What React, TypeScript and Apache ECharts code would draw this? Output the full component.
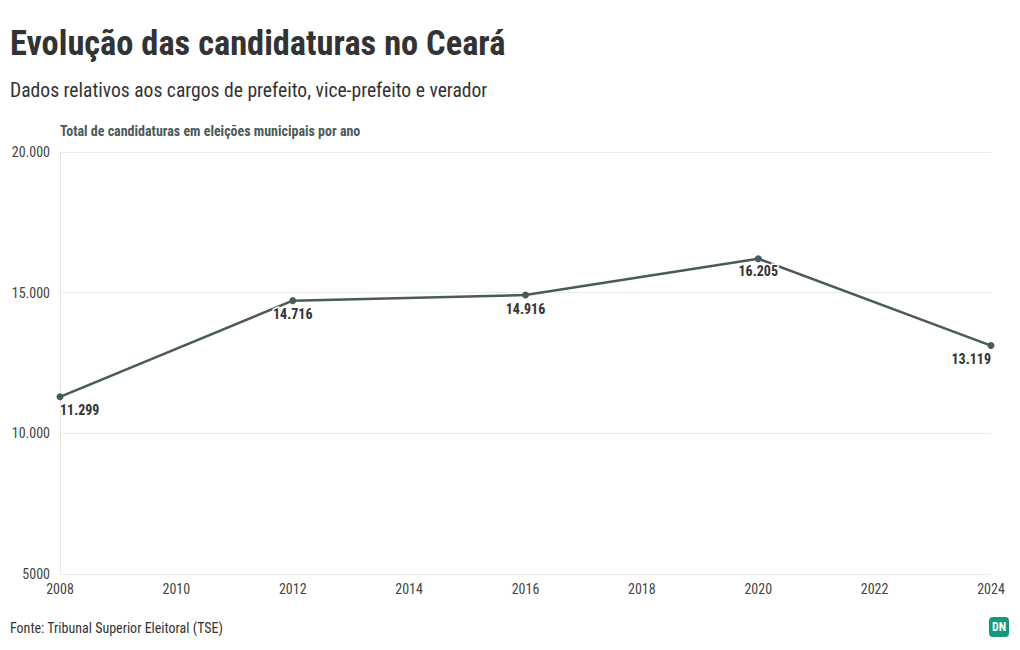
import React, { useEffect, useRef } from "react";
import * as echarts from "echarts";

const years = [2008, 2012, 2016, 2020, 2024];
const candidaturas = [11299, 14716, 14916, 16205, 13119];
const yTicks = [5000, 10000, 15000, 20000];
const xTicks = [2008, 2010, 2012, 2014, 2016, 2018, 2020, 2022, 2024];

const FONT = "'Roboto Condensed', 'Liberation Sans Narrow', 'DejaVu Sans Condensed', Roboto, sans-serif";

const fmt = (v: number) => (v >= 10000 ? v.toLocaleString("de-DE") : String(v));

export default function App() {
  const ref = useRef<HTMLDivElement>(null);
  useEffect(() => {
    document.body.style.margin = "0";
    if (!ref.current) return;
    const chart = echarts.init(ref.current, undefined, { renderer: "svg" });
    const labelAligns: Record<number, any> = {
      0: { align: "left", offset: [0, 2] },
      1: { align: "center", offset: [0, 2] },
      2: { align: "center", offset: [0, 2] },
      3: { align: "center", offset: [0, 1] },
      4: { align: "right", offset: [0, 2] },
    };
    chart.setOption({
      animation: false,
      textStyle: { fontFamily: FONT },
      grid: { left: 60, right: 29, top: 152, bottom: 76, containLabel: false },
      title: [
        {
          text: "Evolução das candidaturas no Ceará",
          left: 5,
          top: 21,
          textStyle: { fontFamily: FONT, fontSize: 34.4, fontWeight: "bold", color: "#333333" },
        },
        {
          text: "Dados relativos aos cargos de prefeito, vice-prefeito e verador",
          left: 5,
          top: 75,
          textStyle: { fontFamily: FONT, fontSize: 19.6, fontWeight: "normal", color: "#333333" },
        },
        {
          text: "Total de candidaturas em eleições municipais por ano",
          left: 55,
          top: 119,
          textStyle: { fontFamily: FONT, fontSize: 14, fontWeight: "bold", color: "#4d5a5a" },
        },
        {
          text: "Fonte: Tribunal Superior Eleitoral (TSE)",
          left: 5,
          top: 616,
          textStyle: { fontFamily: FONT, fontSize: 14, fontWeight: "normal", color: "#333333" },
        },
      ],
      xAxis: {
        type: "value",
        min: xTicks[0],
        max: xTicks[xTicks.length - 1],
        interval: 2,
        axisLine: { show: false },
        axisTick: { show: false },
        splitLine: { show: false },
        axisLabel: { color: "#444", fontSize: 14, fontFamily: FONT, margin: 8, formatter: (v: number) => String(v) },
      },
      yAxis: {
        type: "value",
        min: yTicks[0],
        max: yTicks[yTicks.length - 1],
        interval: 5000,
        axisLine: { show: true, lineStyle: { color: "#e6e6e6" } },
        axisTick: { show: false },
        splitLine: { show: true, lineStyle: { color: "#ebebeb" } },
        axisLabel: { color: "#444", fontSize: 14, fontFamily: FONT, margin: 10, formatter: (v: number) => fmt(v) },
      },
      series: [
        {
          type: "line",
          data: years.map((y, i) => ({
            value: [y, candidaturas[i]],
            label: labelAligns[i],
          })),
          symbol: "circle",
          symbolSize: 7,
          itemStyle: { color: "#4a5a5a" },
          lineStyle: { color: "#4a5a5a", width: 2.5 },
          label: {
            show: true,
            position: "bottom",
            distance: 1,
            fontFamily: FONT,
            fontSize: 14,
            fontWeight: "bold",
            color: "#333333",
            textBorderColor: "#ffffff",
            textBorderWidth: 3,
            formatter: (p: any) => fmt(p.value[1]),
          },
        },
      ],
      graphic: [
        {
          type: "group",
          left: 989,
          top: 617,
          children: [
            { type: "rect", shape: { x: 0, y: 0, width: 20, height: 20, r: 4 }, style: { fill: "#14997c" } },
            {
              type: "text",
              x: 10,
              y: 10,
              style: {
                text: "DN",
                fill: "#ffffff",
                font: "bold 12px " + FONT,
                align: "center",
                verticalAlign: "middle",
              },
            },
          ],
        },
      ],
    });
    return () => chart.dispose();
  }, []);
  return <div ref={ref} style={{ width: 1020, height: 650 }} />;
}
